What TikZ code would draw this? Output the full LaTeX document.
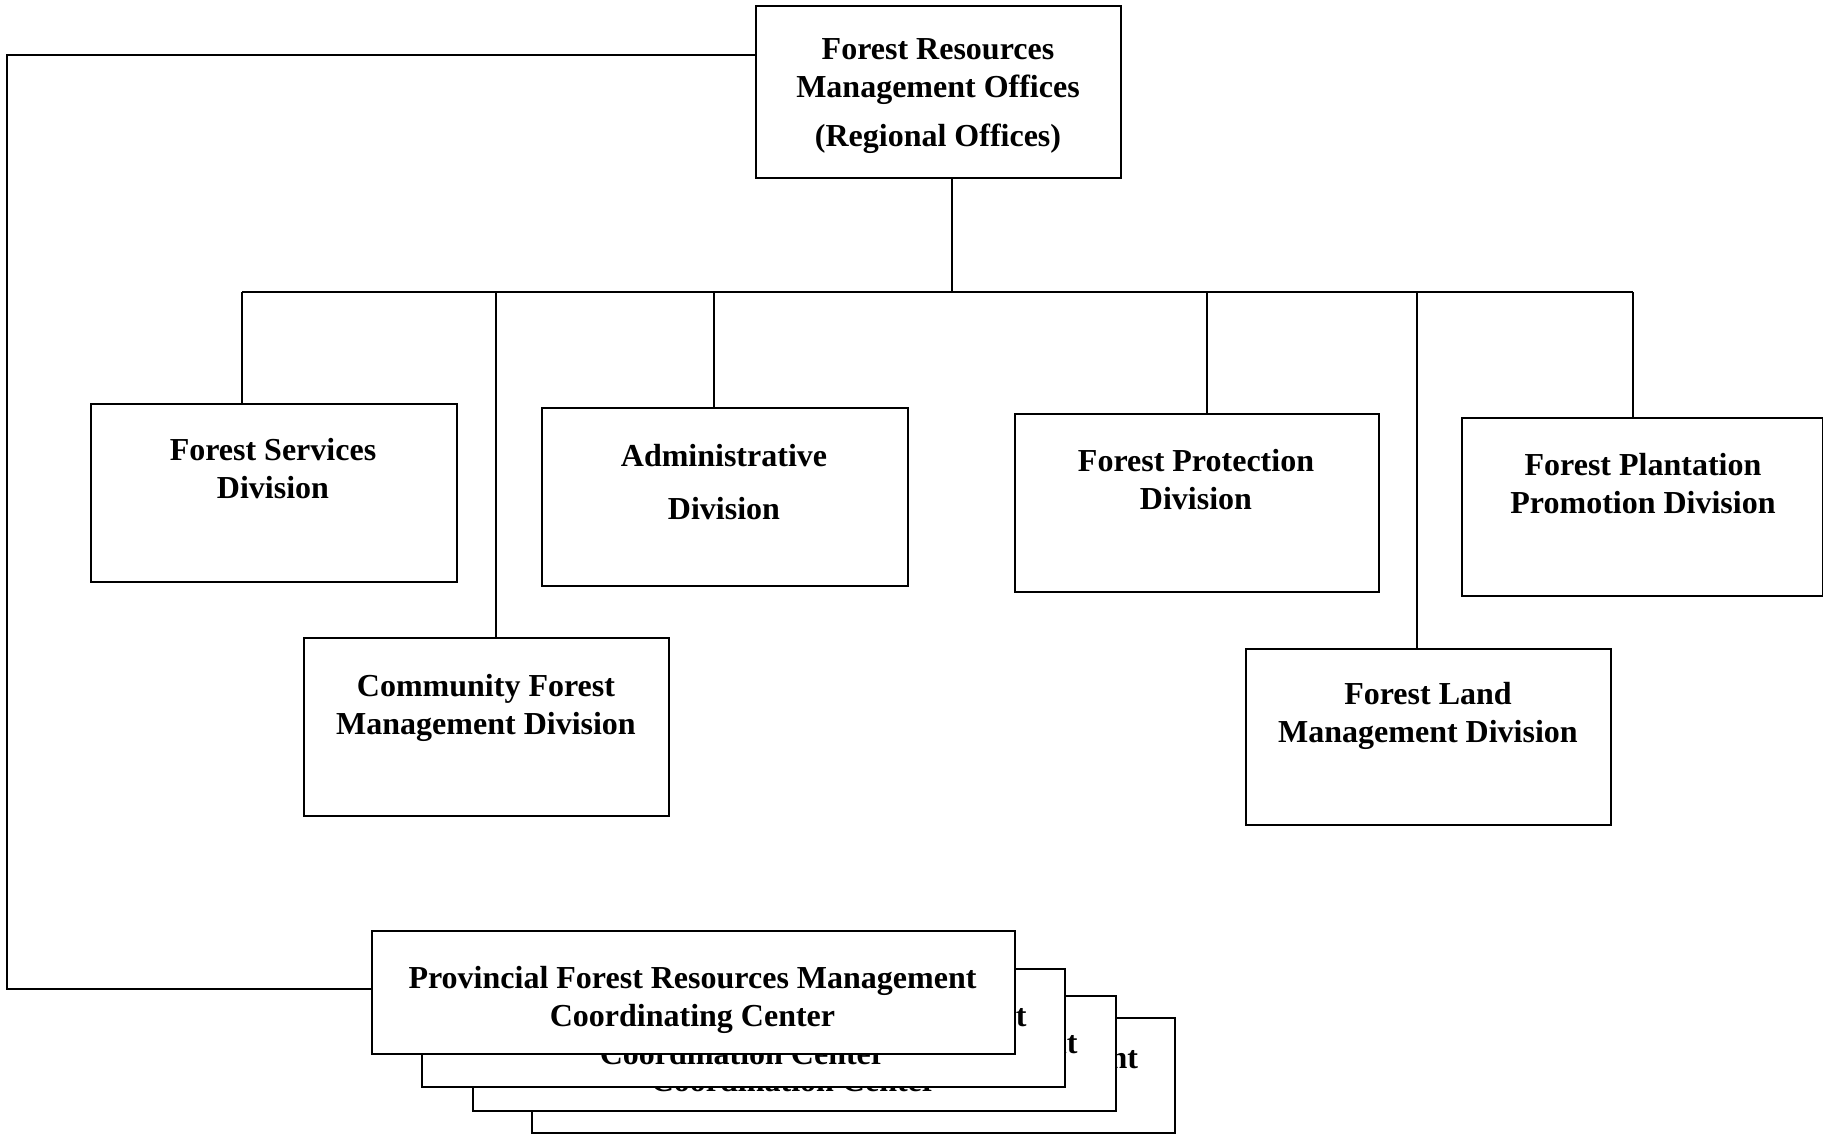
\documentclass[tikz,border=0pt]{standalone}
\usepackage{fontspec}
\setmainfont{Liberation Serif}
\begin{document}
\begin{tikzpicture}[x=1pt,y=-1pt,
  box/.style={draw, line width=2.4pt, fill=white, inner sep=0pt, anchor=north west},
  lbl/.style={anchor=north, align=center, inner sep=0pt, font=\fontsize{32}{38}\selectfont\bfseries},
  conn/.style={line width=2.4pt}]
\useasboundingbox (0,0) rectangle (1823,1134);

% connector points
\coordinate (bt) at (952,292);
\coordinate (b1) at (242,292);
\coordinate (b2) at (496,292);
\coordinate (b3) at (714,292);
\coordinate (b4) at (1207,292);
\coordinate (b5) at (1417,292);
\coordinate (b6) at (1633,292);
\coordinate (lt) at (7,55);
\coordinate (lb) at (7,989);

% top box
\node[box, minimum width=365pt, minimum height=172pt] (tb) at (755,5) {};
\node[lbl] (tbt) at (938,32.4) {\strut Forest Resources\\Management Offices\\[11pt](Regional Offices)};

% division boxes
\node[box, minimum width=366pt, minimum height=178pt] (fs) at (90,403) {};
\node[lbl] (fst) at (273,433.4) {\strut Forest Services\\Division};

\node[box, minimum width=366pt, minimum height=178pt] (ad) at (541,407) {};
\node[lbl] (adt) at (724,439.4) {\strut Administrative\\[15pt]Division};

\node[box, minimum width=364pt, minimum height=178pt] (pr) at (1014,413) {};
\node[lbl] (prt) at (1196,444.4) {\strut Forest Protection\\Division};

\node[box, minimum width=361pt, minimum height=178pt] (pl) at (1461,417) {};
\node[lbl] (plt) at (1643,448.4) {\strut Forest Plantation\\Promotion Division};

\node[box, minimum width=365pt, minimum height=178pt] (cm) at (303,637) {};
\node[lbl] (cmt) at (486,669.4) {\strut Community Forest\\Management Division};

\node[box, minimum width=365pt, minimum height=176pt] (ln) at (1245,648) {};
\node[lbl] (lnt) at (1428,677.4) {\strut Forest Land\\Management Division};

% connectors
\draw[conn] (tb.south -| bt) -- (bt);
\draw[conn] (b1) -- (b6);
\draw[conn] (b1) -- (b1 |- fs.north);
\draw[conn] (b2) -- (b2 |- cm.north);
\draw[conn] (b3) -- (b3 |- ad.north);
\draw[conn] (b4) -- (b4 |- pr.north);
\draw[conn] (b5) -- (b5 |- ln.north);
\draw[conn] (b6) -- (b6 |- pl.north);

% stacked provincial boxes (back to front)
\node[box, minimum width=643pt, minimum height=115pt] (pf4) at (531,1017) {};
\node[lbl] (pf4t) at (854,1041.4) {\strut Provincial Forest Resources Management\\Coordination Center};

\node[box, minimum width=643pt, minimum height=115pt] (pf3) at (472,995) {};
\node[lbl] (pf3t) at (793.5,1026.4) {\strut Provincial Forest Resources Management\\Coordination Center};

\node[box, minimum width=643pt, minimum height=118pt] (pf2) at (421,968) {};
\node[lbl] (pf2t) at (742.5,999.4) {\strut Provincial Forest Resources Management\\Coordination Center};

\node[box, minimum width=643pt, minimum height=123pt] (pf1) at (371,930) {};
\node[lbl] (pf1t) at (692.5,961.4) {\strut Provincial Forest Resources Management\\Coordinating Center};

% feedback line on the left
\draw[conn] (tb.west |- lt) -- (lt) -- (lb) -- (lb -| pf1.west);
\end{tikzpicture}
\end{document}
